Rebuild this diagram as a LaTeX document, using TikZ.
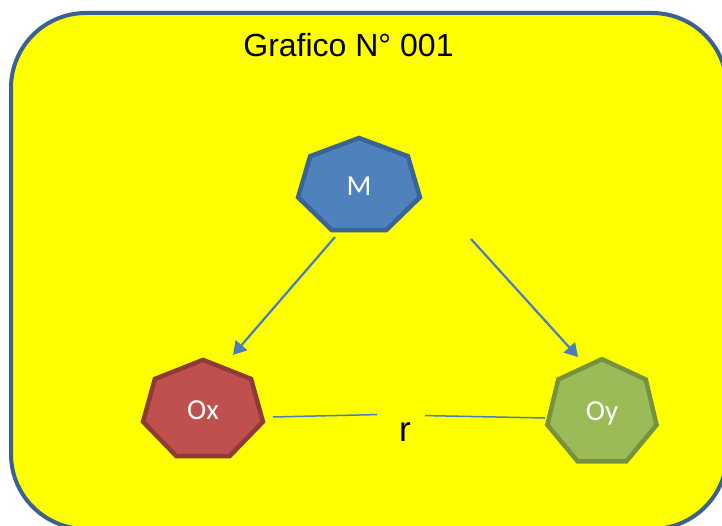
\documentclass[tikz,border=0pt]{standalone}
\usepackage{fontspec}
\setmainfont{Liberation Sans}
\newfontfamily\shapefont{Carlito}
\usetikzlibrary{arrows.meta,calc}

\definecolor{frameblue}{HTML}{3B6190}
\definecolor{panel}{HTML}{FFFF00}
\definecolor{mfill}{HTML}{4F81BD}
\definecolor{mline}{HTML}{3A6396}
\definecolor{oxfill}{HTML}{C0504D}
\definecolor{oxline}{HTML}{8E3B38}
\definecolor{oyfill}{HTML}{9BBB59}
\definecolor{oyline}{HTML}{76923C}
\definecolor{link}{HTML}{4A7EBB}

% heptagon with one vertex on top, radii #2 (horizontal) and #3 (vertical)
\newcommand\heptagon[5]{%
  \draw[shapeline,fill=#4,draw=#5,shift={(#1)}]
    (90:#2 and #3) -- (141.43:#2 and #3) -- (192.86:#2 and #3) --
    (244.29:#2 and #3) -- (295.71:#2 and #3) -- (347.14:#2 and #3) --
    (38.57:#2 and #3) -- cycle;}

\tikzset{
  frame/.style={line width=4pt,draw=frameblue,fill=panel,rounded corners=75pt},
  shapeline/.style={line width=4.5pt,line join=miter},
  shapelabel/.style={text=white,font=\shapefont\fontsize{29}{29}\selectfont,inner sep=0pt},
  arrowlink/.style={draw=link,line width=2.2pt,-{Triangle[length=13pt,width=15pt]}},
  plainlink/.style={draw=link,line width=1.5pt},
}

\begin{document}
\begin{tikzpicture}[x=1pt,y=1pt]
\useasboundingbox (0,0) rectangle (722,526);

% yellow panel
\draw[frame] (11,-3) rectangle (727,513);

% title
\node[anchor=base,inner sep=0pt,font=\fontsize{32}{32}\selectfont] (title) at (348.5,469) {Grafico N° 001};

% centres of the three heptagons
\coordinate (cM) at (359,339.5);
\coordinate (cOx) at (203,115.5);
\coordinate (cOy) at (602,113);

\heptagon{cM}{62.5}{48.5}{mfill}{mline}
\heptagon{cOx}{61.5}{50.6}{oxfill}{oxline}
\heptagon{cOy}{56}{53.8}{oyfill}{oyline}

\node[shapelabel] (M) at (cM) {M};
\node[shapelabel] (Ox) at (cOx) {Ox};
\node[shapelabel] (Oy) at (cOy) {Oy};

% correlation label
\node[anchor=base,inner sep=0pt,font=\fontsize{35}{35}\selectfont] (r) at (405,84) {r};

% arrows from M
\draw[arrowlink] ($(M)+(-24,-50.5)$) -- ($(Ox)+(30,55.5)$);
\draw[arrowlink] ($(M)+(112,-52.5)$) -- ($(Oy)+(-24,56)$);

% lines through r
\draw[plainlink] ($(Ox)+(70,-6.5)$) -- ($(r)+(-28,18)$);
\draw[plainlink] ($(r)+(20,17)$) -- ($(Oy)+(-57,-5)$);
\end{tikzpicture}
\end{document}
